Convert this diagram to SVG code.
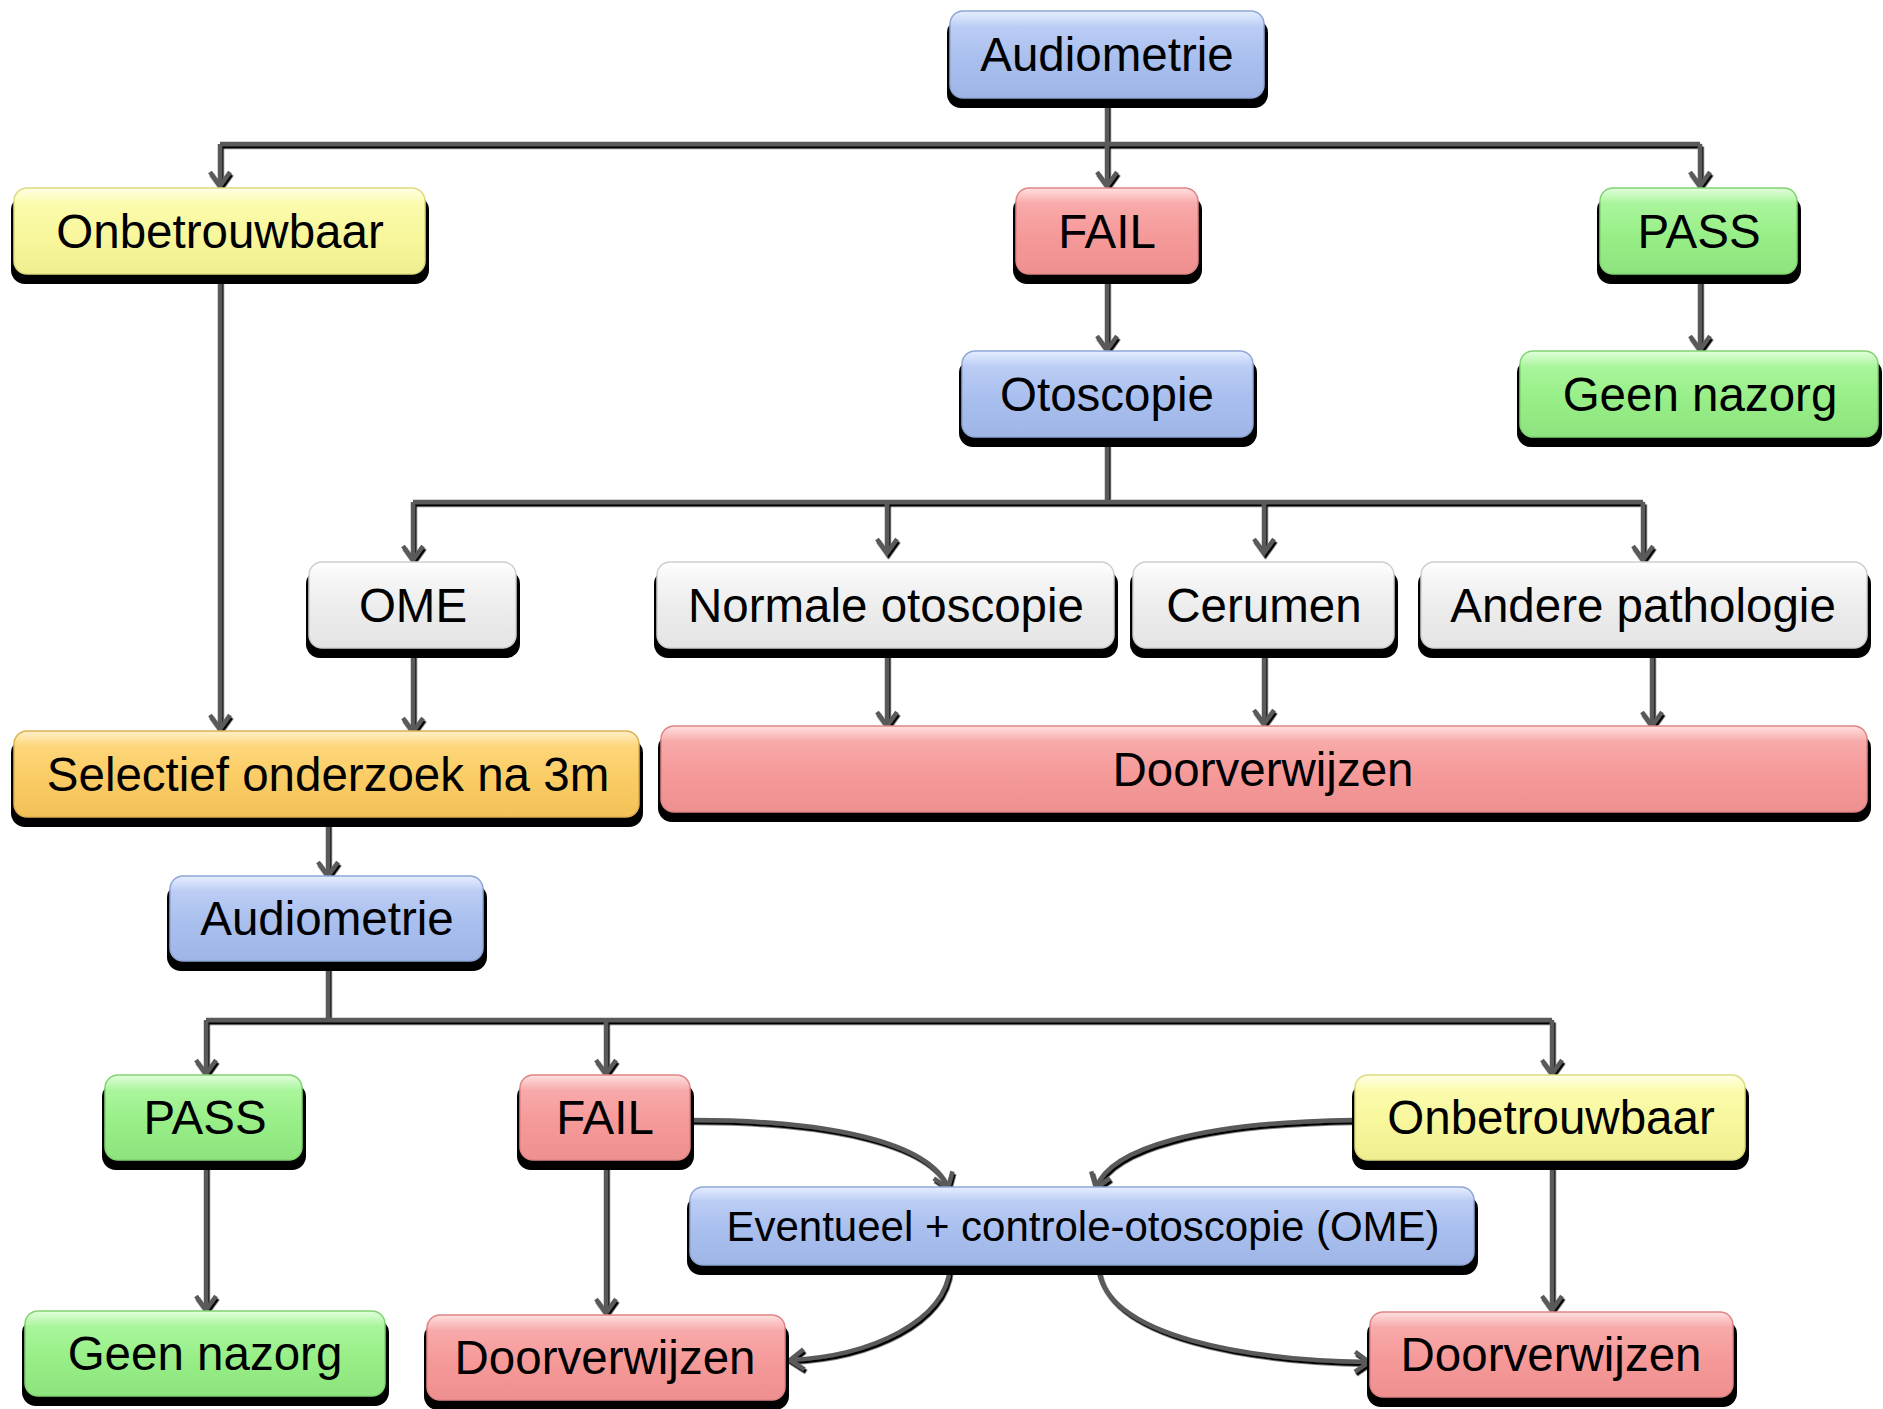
<svg xmlns="http://www.w3.org/2000/svg" width="1883" height="1409" viewBox="0 0 1883 1409">
<defs>
<linearGradient id="gBlue" x1="0" y1="0" x2="0" y2="1">
<stop offset="0" stop-color="#e6eeff"/><stop offset="0.18" stop-color="#bccdf5"/><stop offset="0.55" stop-color="#a9bfee"/><stop offset="1" stop-color="#9fb5e6"/></linearGradient>
<linearGradient id="gRed" x1="0" y1="0" x2="0" y2="1">
<stop offset="0" stop-color="#ffe0e0"/><stop offset="0.18" stop-color="#f8aaaa"/><stop offset="0.55" stop-color="#f69999"/><stop offset="1" stop-color="#ee9090"/></linearGradient>
<linearGradient id="gGreen" x1="0" y1="0" x2="0" y2="1">
<stop offset="0" stop-color="#e2ffdc"/><stop offset="0.18" stop-color="#aaf59c"/><stop offset="0.55" stop-color="#98ef88"/><stop offset="1" stop-color="#8de47e"/></linearGradient>
<linearGradient id="gYellow" x1="0" y1="0" x2="0" y2="1">
<stop offset="0" stop-color="#ffffe6"/><stop offset="0.18" stop-color="#fbfbae"/><stop offset="0.55" stop-color="#f8f79c"/><stop offset="1" stop-color="#efee90"/></linearGradient>
<linearGradient id="gWhite" x1="0" y1="0" x2="0" y2="1">
<stop offset="0" stop-color="#ffffff"/><stop offset="0.18" stop-color="#f6f6f6"/><stop offset="0.55" stop-color="#ececec"/><stop offset="1" stop-color="#e4e4e4"/></linearGradient>
<linearGradient id="gOrange" x1="0" y1="0" x2="0" y2="1">
<stop offset="0" stop-color="#fff0c8"/><stop offset="0.18" stop-color="#fdd67a"/><stop offset="0.55" stop-color="#fbcc64"/><stop offset="1" stop-color="#f2c258"/></linearGradient>
<marker id="arr" markerUnits="userSpaceOnUse" markerWidth="40" markerHeight="40" viewBox="-20 -20 40 40" refX="0" refY="0" orient="auto">
<path d="M -14 -10 L 0 0 L -14 10" fill="none" stroke="#5a5a5a" stroke-width="4.5"/>
</marker>
<filter id="ls" x="-5%" y="-5%" width="110%" height="110%">
<feDropShadow dx="1.5" dy="2.5" stdDeviation="0.4" flood-color="#000" flood-opacity="1"/>
</filter>
</defs>
<style>
.sh{fill:#000}
.bx{stroke-width:1.5}
.blue{fill:url(#gBlue);stroke:#8fa6d6}
.red{fill:url(#gRed);stroke:#e08585}
.green{fill:url(#gGreen);stroke:#80d470}
.yellow{fill:url(#gYellow);stroke:#dcdb80}
.white{fill:url(#gWhite);stroke:#cfcfcf}
.orange{fill:url(#gOrange);stroke:#ddb050}
.t{font-family:"Liberation Sans",Arial,sans-serif;font-size:47.5px;fill:#000;text-anchor:middle}
.ts{font-size:42px}
.c{fill:none;stroke:#5a5a5a;stroke-width:4.5}
.a{marker-end:url(#arr)}
</style>

<g id="connectors" filter="url(#ls)">
<path class="c" d="M1107,98 V144 M220,144 H1700"/>
<path class="c a" d="M220,144 V186"/>
<path class="c a" d="M1107,144 V186"/>
<path class="c a" d="M1700,144 V186"/>
<path class="c a" d="M220,276 V729"/>
<path class="c a" d="M1107,276 V350"/>
<path class="c a" d="M1700,276 V350"/>
<path class="c" d="M1107,439 V502 M413,502 H1643"/>
<path class="c a" d="M413,502 V560"/>
<path class="c a" d="M887,502 V553"/>
<path class="c a" d="M1264,502 V553"/>
<path class="c a" d="M1643,502 V560"/>
<path class="c a" d="M413,650 V732"/>
<path class="c a" d="M887,650 V726"/>
<path class="c a" d="M1264,650 V724"/>
<path class="c a" d="M1652,650 V726"/>
<path class="c a" d="M328,820 V876"/>
<path class="c" d="M328,963 V1020 M206,1020 H1552"/>
<path class="c a" d="M206,1020 V1074"/>
<path class="c a" d="M606,1020 V1074"/>
<path class="c a" d="M1552,1020 V1074"/>
<path class="c a" d="M206,1162 V1310"/>
<path class="c a" d="M606,1162 V1313"/>
<path class="c a" d="M1552,1162 V1310"/>
<path class="c a" d="M692,1120 C820,1120 930,1140 948,1188"/>
<path class="c a" d="M1354,1120 C1200,1122 1110,1148 1096,1188"/>
<path class="c a" d="M950,1267 C946,1322 870,1356 790,1360"/>
<path class="c a" d="M1098,1267 C1106,1338 1250,1360 1369,1362"/>
</g>

<g id="n1"><rect class="sh" x="947" y="19" width="321" height="89" rx="14"/><rect class="bx blue" x="950" y="11" width="314" height="87" rx="13"/><text class="t" x="1107" y="71">Audiometrie</text></g>
<g id="n2"><rect class="sh" x="11" y="196" width="418" height="88" rx="14"/><rect class="bx yellow" x="14" y="188" width="411" height="86" rx="13"/><text class="t" x="220" y="248">Onbetrouwbaar</text></g>
<g id="n3"><rect class="sh" x="1013" y="196" width="189" height="88" rx="14"/><rect class="bx red" x="1016" y="188" width="182" height="86" rx="13"/><text class="t" x="1107" y="248">FAIL</text></g>
<g id="n4"><rect class="sh" x="1597" y="196" width="204" height="88" rx="14"/><rect class="bx green" x="1600" y="188" width="197" height="86" rx="13"/><text class="t" x="1699" y="248">PASS</text></g>
<g id="n5"><rect class="sh" x="959" y="359" width="298" height="88" rx="14"/><rect class="bx blue" x="962" y="351" width="291" height="86" rx="13"/><text class="t" x="1107" y="411">Otoscopie</text></g>
<g id="n6"><rect class="sh" x="1517" y="359" width="365" height="88" rx="14"/><rect class="bx green" x="1520" y="351" width="358" height="86" rx="13"/><text class="t" x="1700" y="411">Geen nazorg</text></g>
<g id="n7"><rect class="sh" x="306" y="570" width="214" height="88" rx="14"/><rect class="bx white" x="309" y="562" width="207" height="86" rx="13"/><text class="t" x="413" y="622">OME</text></g>
<g id="n8"><rect class="sh" x="654" y="570" width="464" height="88" rx="14"/><rect class="bx white" x="657" y="562" width="457" height="86" rx="13"/><text class="t" x="886" y="622">Normale otoscopie</text></g>
<g id="n9"><rect class="sh" x="1130" y="570" width="268" height="88" rx="14"/><rect class="bx white" x="1133" y="562" width="261" height="86" rx="13"/><text class="t" x="1264" y="622">Cerumen</text></g>
<g id="n10"><rect class="sh" x="1418" y="570" width="453" height="88" rx="14"/><rect class="bx white" x="1421" y="562" width="446" height="86" rx="13"/><text class="t" x="1643" y="622">Andere pathologie</text></g>
<g id="n11"><rect class="sh" x="11" y="739" width="632" height="88" rx="14"/><rect class="bx orange" x="14" y="731" width="625" height="86" rx="13"/><text class="t" x="328" y="791">Selectief onderzoek na 3m</text></g>
<g id="n12"><rect class="sh" x="658" y="734" width="1213" height="88" rx="14"/><rect class="bx red" x="661" y="726" width="1206" height="86" rx="13"/><text class="t" x="1263" y="786">Doorverwijzen</text></g>
<g id="n13"><rect class="sh" x="167" y="884" width="320" height="87" rx="14"/><rect class="bx blue" x="170" y="876" width="313" height="85" rx="13"/><text class="t" x="327" y="935">Audiometrie</text></g>
<g id="n14"><rect class="sh" x="102" y="1083" width="204" height="87" rx="14"/><rect class="bx green" x="105" y="1075" width="197" height="85" rx="13"/><text class="t" x="205" y="1134">PASS</text></g>
<g id="n15"><rect class="sh" x="517" y="1083" width="177" height="87" rx="14"/><rect class="bx red" x="520" y="1075" width="170" height="85" rx="13"/><text class="t" x="605" y="1134">FAIL</text></g>
<g id="n16"><rect class="sh" x="1352" y="1083" width="397" height="87" rx="14"/><rect class="bx yellow" x="1355" y="1075" width="390" height="85" rx="13"/><text class="t" x="1551" y="1134">Onbetrouwbaar</text></g>
<g id="n17"><rect class="sh" x="687" y="1195" width="791" height="80" rx="14"/><rect class="bx blue" x="690" y="1187" width="784" height="78" rx="13"/><text class="t ts" x="1083" y="1241">Eventueel + controle-otoscopie (OME)</text></g>
<g id="n18"><rect class="sh" x="22" y="1319" width="367" height="87" rx="14"/><rect class="bx green" x="25" y="1311" width="360" height="85" rx="13"/><text class="t" x="205" y="1370">Geen nazorg</text></g>
<g id="n19"><rect class="sh" x="424" y="1323" width="365" height="87" rx="14"/><rect class="bx red" x="427" y="1315" width="358" height="85" rx="13"/><text class="t" x="605" y="1374">Doorverwijzen</text></g>
<g id="n20"><rect class="sh" x="1367" y="1320" width="370" height="87" rx="14"/><rect class="bx red" x="1370" y="1312" width="363" height="85" rx="13"/><text class="t" x="1551" y="1371">Doorverwijzen</text></g>
</svg>
